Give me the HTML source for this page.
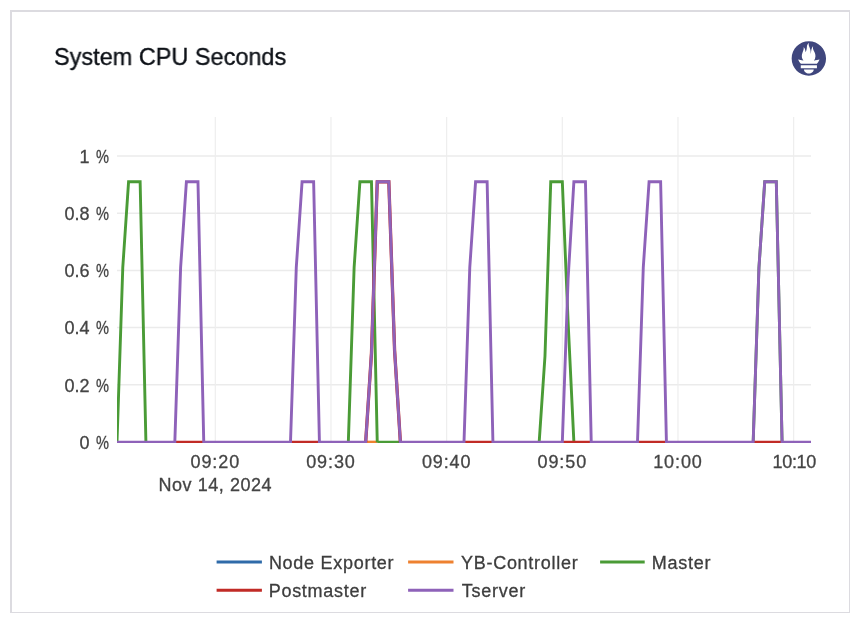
<!DOCTYPE html>
<html><head><meta charset="utf-8"><style>
html,body{margin:0;padding:0;background:#fff;width:860px;height:624px;overflow:hidden;font-family:"Liberation Sans",sans-serif;}
.card{position:absolute;left:10px;top:10px;width:837px;height:600px;border-style:solid;border-color:#dcdbe0;border-width:2px 1px 1px 2px;background:#fff;}
.title{position:absolute;left:54px;top:42px;font-size:24px;letter-spacing:0;color:#0d1117;white-space:nowrap;line-height:30px;transform:scaleX(0.978);transform-origin:0 0;will-change:transform;-webkit-text-stroke:0.35px #0d1117;}
svg{position:absolute;left:0;top:0;will-change:transform;}
</style></head><body>
<div class="card"></div>
<div class="title">System CPU Seconds</div>
<svg width="860" height="624" viewBox="0 0 860 624">
<g transform="translate(791.65,41.35) scale(1.4333)"><path fill="#3f467d" fill-rule="evenodd" d="M12 0C5.373 0 0 5.372 0 12c0 6.627 5.373 12 12 12s12-5.373 12-12c0-6.628-5.373-12-12-12zm0 22.46c-1.885 0-3.414-1.26-3.414-2.814h6.828c0 1.553-1.528 2.813-3.414 2.813zm5.64-3.745H6.36v-2.046h11.28v2.046zm-.04-3.098H6.391c-.037-.043-.075-.086-.111-.13-1.155-1.401-1.427-2.133-1.69-2.879-.005-.025 1.4.287 2.395.511 0 0 .513.119 1.262.255-.72-.843-1.147-1.915-1.147-3.01 0-2.406 1.845-4.508 1.18-6.207.648.053 1.34 1.367 1.387 3.422.689-.951.977-2.69.977-3.755 0-1.103.727-2.385 1.454-2.429-.648 1.068.168 1.984.894 4.256.272.854.237 2.29.447 3.201.07-1.892.395-4.652 1.595-5.605-.529 1.2.079 2.702.494 3.424.671 1.164 1.078 2.047 1.078 3.716a4.642 4.642 0 0 1-1.11 2.996c.792-.149 1.34-.283 1.34-.283l2.573-.502s-.374 1.538-1.81 3.019z"/></g>
<g stroke="#ebebeb" stroke-width="1.5" fill="none"><line x1="117.0" x2="811.0" y1="384.86" y2="384.86"/><line x1="117.0" x2="811.0" y1="327.62" y2="327.62"/><line x1="117.0" x2="811.0" y1="270.38" y2="270.38"/><line x1="117.0" x2="811.0" y1="213.14" y2="213.14"/><line x1="117.0" x2="811.0" y1="155.90" y2="155.90"/></g>
<g stroke="#eeeeee" stroke-width="1.2" fill="none"><line x1="215.32" x2="215.32" y1="117" y2="442.1"/><line x1="330.98" x2="330.98" y1="117" y2="442.1"/><line x1="446.65" x2="446.65" y1="117" y2="442.1"/><line x1="562.32" x2="562.32" y1="117" y2="442.1"/><line x1="677.98" x2="677.98" y1="117" y2="442.1"/><line x1="793.65" x2="793.65" y1="117" y2="442.1"/></g>
<g font-size="18" fill="#444" stroke="#444" stroke-width="0.3" text-anchor="end" letter-spacing="0"><text x="89.6" y="448.90">0</text><text transform="translate(95.9,448.90) scale(0.81,1)" text-anchor="start">%</text><text x="89.6" y="391.66">0.2</text><text transform="translate(95.9,391.66) scale(0.81,1)" text-anchor="start">%</text><text x="89.6" y="334.42">0.4</text><text transform="translate(95.9,334.42) scale(0.81,1)" text-anchor="start">%</text><text x="89.6" y="277.18">0.6</text><text transform="translate(95.9,277.18) scale(0.81,1)" text-anchor="start">%</text><text x="89.6" y="219.94">0.8</text><text transform="translate(95.9,219.94) scale(0.81,1)" text-anchor="start">%</text><text x="89.6" y="162.70">1</text><text transform="translate(95.9,162.70) scale(0.81,1)" text-anchor="start">%</text></g>
<g font-size="18" fill="#444" stroke="#444" stroke-width="0.3" text-anchor="middle" letter-spacing="0.9"><text x="215.32" y="468.2">09:20</text><text x="330.98" y="468.2">09:30</text><text x="446.65" y="468.2">09:40</text><text x="562.32" y="468.2">09:50</text><text x="677.98" y="468.2">10:00</text><text x="794.25" y="468.2" letter-spacing="-0.3">10:10</text><text x="215.32" y="491" letter-spacing="0.55">Nov 14, 2024</text></g>
<defs><clipPath id="pc"><rect x="117" y="117" width="694.5" height="325.9"/></clipPath></defs>
<g fill="none" stroke-width="2.9" stroke-linejoin="miter" clip-path="url(#pc)">
<path stroke="#ee8130" d="M365.68,442.10 L377.25,442.10"/>
<path stroke="#4a9b36" d="M117.00,442.10 L122.78,267.52 L128.57,181.80 L140.13,181.80 L145.92,442.10 M348.33,442.10 L354.12,267.52 L359.90,181.80 L371.47,181.80 L377.25,442.10 M539.18,442.10 L544.97,356.24 L550.75,181.80 L562.32,181.80 L568.10,321.90 L573.88,442.10 M753.17,442.10 L758.95,267.52 L764.73,181.80 L776.30,181.80 L782.08,442.10 M377.25,442.10 L400.38,442.10"/>
<path stroke="#c12b26" d="M174.83,442.10 L203.75,442.10 M290.50,442.10 L319.42,442.10 M464.00,442.10 L492.92,442.10 M562.32,442.10 L591.23,442.10 M637.50,442.10 L666.42,442.10 M753.17,442.10 L782.08,442.10"/>
<path stroke="#c12b26" stroke-width="3.3" d="M365.68,442.10 L371.47,353.38 L377.25,181.80 L388.82,181.80 L394.60,350.52 L400.38,442.10"/>
<path stroke="#8e62b9" d="M117.00,442.10 L174.83,442.10 L180.62,267.52 L186.40,181.80 L197.97,181.80 L203.75,442.10 L290.50,442.10 L296.28,267.52 L302.07,181.80 L313.63,181.80 L319.42,442.10 L365.68,442.10 L371.47,353.38 L377.25,181.80 L388.82,181.80 L394.60,350.52 L400.38,442.10 L464.00,442.10 L469.78,267.52 L475.57,181.80 L487.13,181.80 L492.92,442.10 L562.32,442.10 L568.10,278.97 L573.88,181.80 L585.45,181.80 L591.23,442.10 L637.50,442.10 L643.28,267.52 L649.07,181.80 L660.63,181.80 L666.42,442.10 L753.17,442.10 L758.95,267.52 L764.73,181.80 L776.30,181.80 L782.08,442.10 L811.00,442.10"/>
</g>
<g stroke-width="3">
<line x1="216.6" x2="261.9" y1="561.9" y2="561.9" stroke="#2f6ba9"/>
<line x1="408.1" x2="453.5" y1="561.9" y2="561.9" stroke="#ee8130"/>
<line x1="600.1" x2="644.7" y1="561.9" y2="561.9" stroke="#4a9b36"/>
<line x1="216.6" x2="261.9" y1="590.3" y2="590.3" stroke="#c12b26"/>
<line x1="408.1" x2="453.5" y1="590.3" y2="590.3" stroke="#8e62b9"/>
</g>
<g font-size="18" fill="#3d3d3d" stroke="#3d3d3d" stroke-width="0.3" letter-spacing="0.72">
<text x="268.9" y="568.9">Node Exporter</text>
<text x="461" y="568.9">YB-Controller</text>
<text x="651.8" y="568.9">Master</text>
<text x="268.7" y="596.8">Postmaster</text>
<text x="461.8" y="596.8">Tserver</text>
</g>
</svg>
</body></html>
